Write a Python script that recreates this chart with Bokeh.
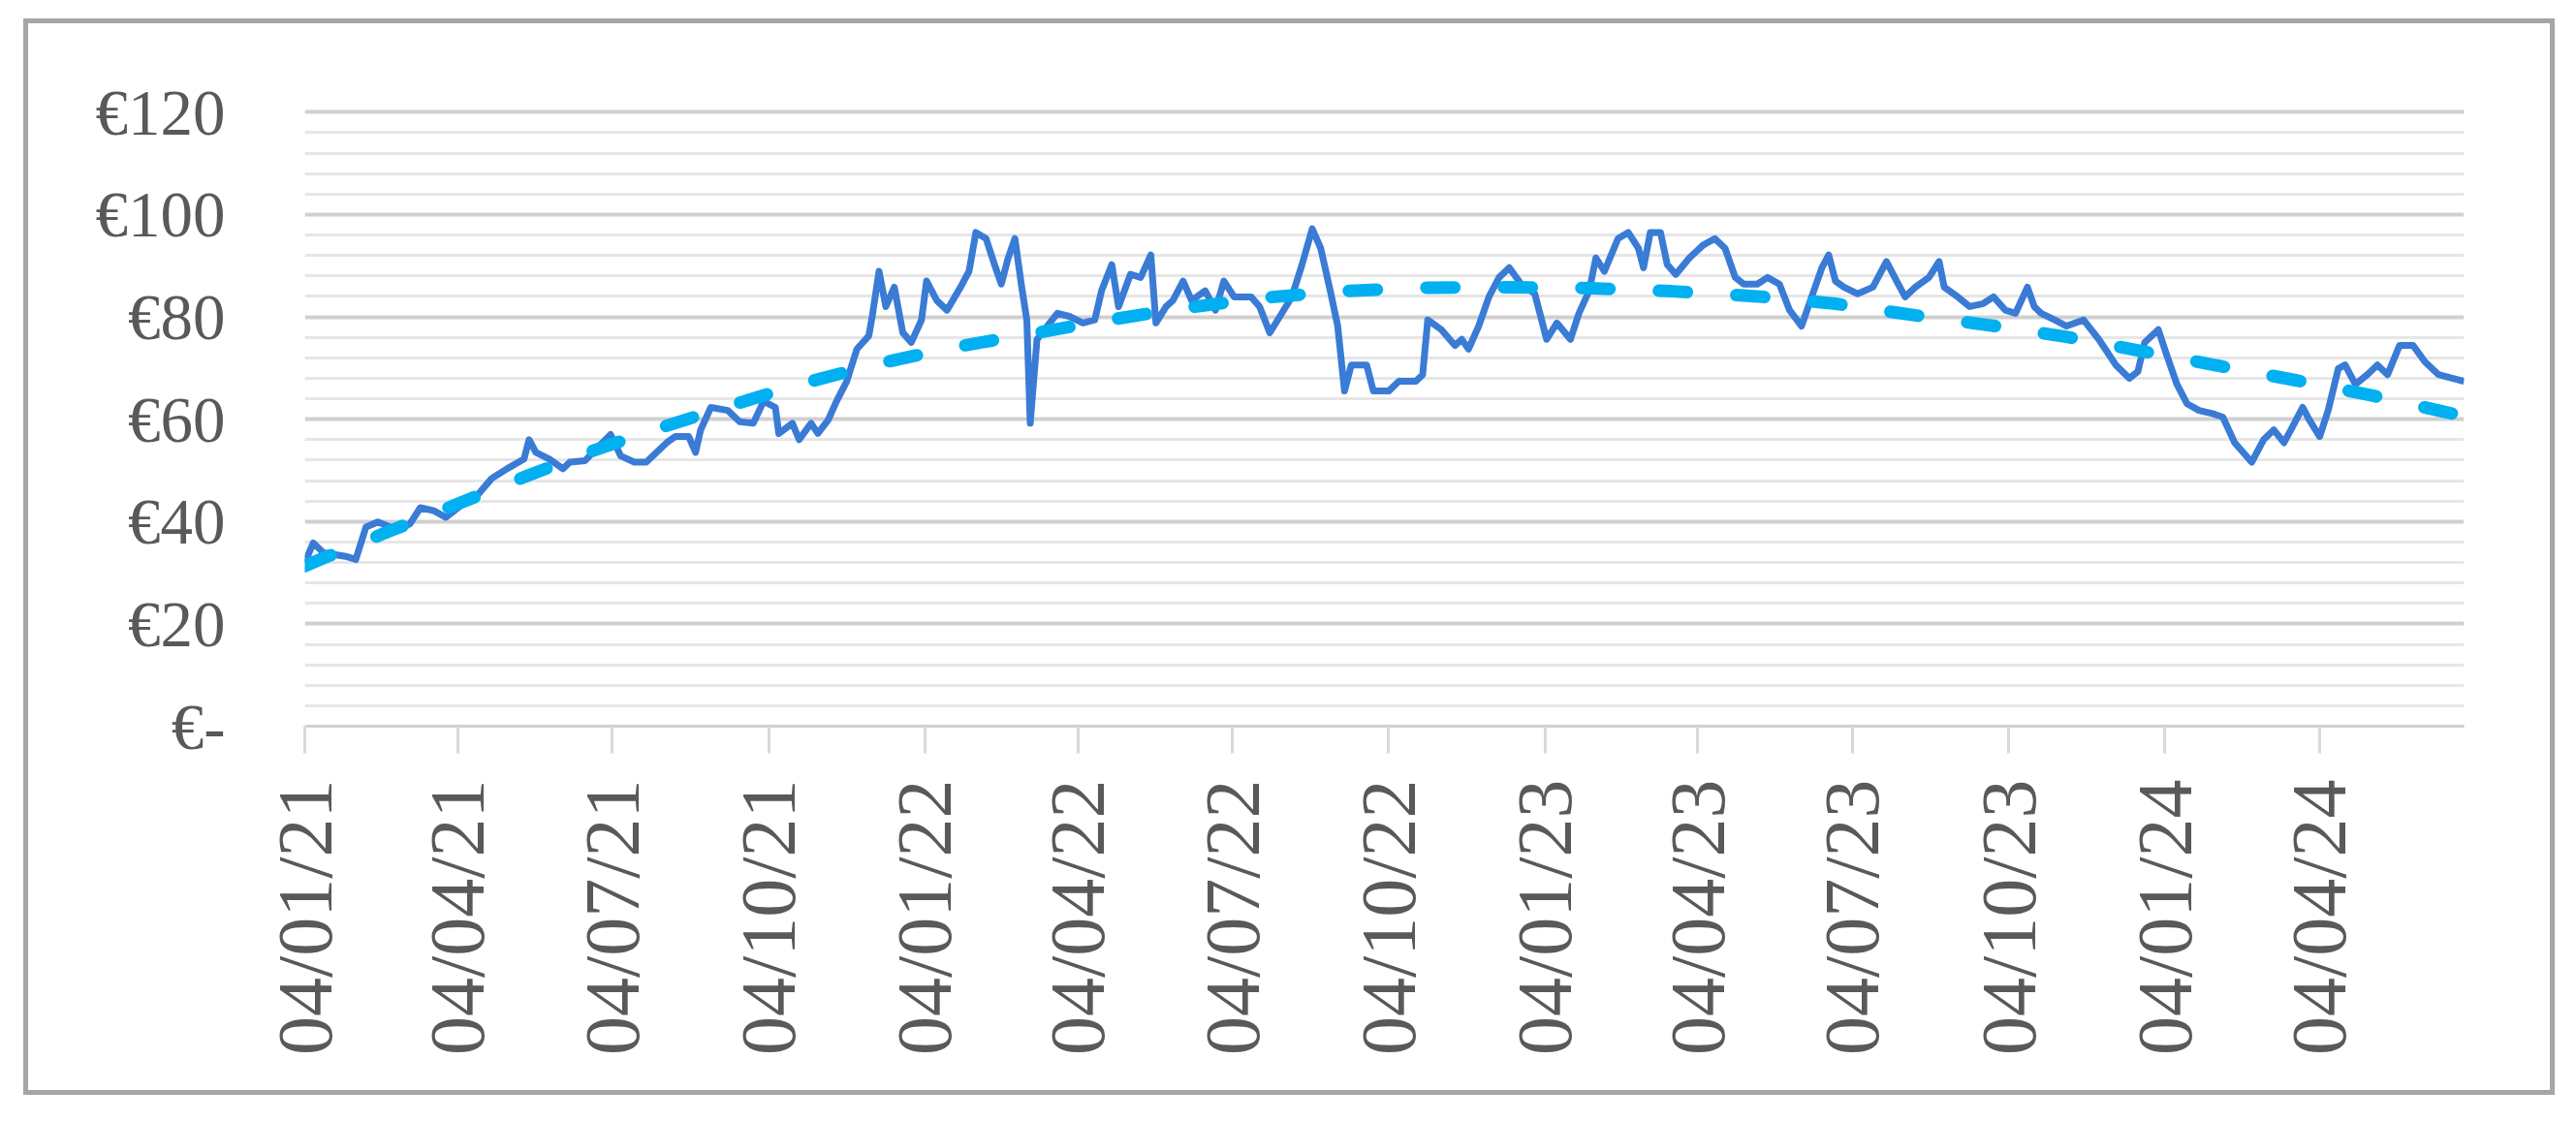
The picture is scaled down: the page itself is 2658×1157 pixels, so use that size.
import math
import pandas as pd
from bokeh.plotting import figure
from bokeh.models import Range1d, FixedTicker, DatetimeTickFormatter
from bokeh.embed import file_html
from bokeh.resources import INLINE

# ---------------- data ----------------
start_date = "2021-01-04"
end_date = "2024-06-28"

# price series: day offsets from start_date and closing price (EUR)
price_day_offsets = [
    0, 5, 11, 24, 30, 36, 43, 55, 62, 68, 76, 83, 93, 102, 110, 119, 129, 132, 136, 144,
    152, 156, 165, 173, 180, 186, 194, 201, 207, 213, 218, 226, 230, 233, 239, 249, 256, 264, 270, 277,
    279, 287, 291, 298, 302, 308, 313, 319, 325, 332, 334, 338, 342, 347, 352, 357, 363, 366, 372, 378,
    386, 391, 395, 401, 406, 410, 414, 418, 422, 425, 427, 431, 437, 443, 450, 458, 465, 469, 475, 479,
    486, 492, 498, 501, 507, 511, 517, 522, 530, 536, 541, 547, 557, 562, 568, 574, 581, 587, 593, 598,
    604, 608, 612, 616, 625, 629, 638, 644, 654, 658, 661, 669, 677, 681, 685, 691, 697, 703, 709, 716,
    724, 731, 737, 745, 750, 756, 760, 765, 773, 779, 785, 788, 792, 798, 802, 807, 815, 823, 830, 836,
    842, 847, 855, 861, 868, 874, 881, 887, 893, 897, 901, 906, 914, 923, 931, 937, 942, 948, 956, 962,
    965, 973, 980, 988, 994, 1001, 1007, 1014, 1018, 1022, 1030, 1037, 1047, 1056, 1066, 1074, 1079, 1083, 1091, 1096,
    1102, 1108, 1115, 1123, 1129, 1136, 1146, 1153, 1159, 1165, 1170, 1176, 1180, 1186, 1191, 1197, 1201, 1207, 1214, 1220,
    1226, 1233, 1241, 1248, 1256, 1264, 1271,
]
price_values = [
    32.0, 35.8, 33.9, 33.2, 32.6, 38.9, 39.9, 38.3, 39.6, 42.7, 42.1, 40.8, 43.4, 45.3, 48.4, 50.3, 52.2, 56.0, 53.5, 52.2,
    50.3, 51.6, 51.9, 54.7, 57.0, 52.8, 51.6, 51.6, 53.5, 55.4, 56.6, 56.6, 53.5, 57.9, 62.3, 61.7, 59.5, 59.2, 63.5, 62.3,
    57.2, 59.2, 56.0, 59.2, 57.2, 59.8, 63.5, 67.4, 73.7, 76.3, 80.1, 88.9, 82.0, 85.8, 76.9, 75.0, 79.4, 87.0, 83.2, 81.3,
    85.8, 88.9, 96.5, 95.3, 90.2, 86.4, 91.5, 95.3, 85.8, 79.4, 59.2, 75.6, 78.2, 80.7, 80.1, 78.8, 79.4, 85.1, 90.2, 82.0,
    88.3, 87.7, 92.1, 78.8, 82.0, 83.2, 87.0, 83.2, 85.1, 81.3, 87.0, 83.9, 83.9, 82.0, 76.9, 80.1, 83.9, 90.2, 97.2, 93.4,
    84.5, 78.2, 65.5, 70.6, 70.6, 65.5, 65.5, 67.4, 67.4, 68.7, 79.4, 77.5, 74.4, 75.6, 73.7, 78.2, 83.9, 87.7, 89.6, 86.4,
    84.5, 75.6, 78.8, 75.6, 80.7, 85.1, 91.5, 88.9, 95.3, 96.5, 93.4, 89.6, 96.5, 96.5, 90.2, 88.3, 91.5, 94.0, 95.3, 93.4,
    87.7, 86.4, 86.4, 87.7, 86.4, 81.3, 78.2, 83.9, 89.6, 92.1, 87.0, 85.8, 84.5, 85.8, 90.8, 87.0, 83.9, 85.8, 87.7, 90.8,
    85.8, 83.9, 82.0, 82.6, 83.9, 81.3, 80.7, 85.8, 82.0, 80.7, 79.4, 78.2, 79.4, 75.6, 70.6, 68.0, 69.3, 75.0, 77.5, 72.5,
    66.8, 63.0, 61.7, 61.1, 60.4, 55.4, 51.6, 56.0, 57.9, 55.4, 58.5, 62.3, 59.8, 56.6, 61.7, 69.9, 70.6, 66.8, 68.7, 70.6,
    68.7, 74.4, 74.4, 71.2, 68.7, 68.0, 67.4,
]

# trend line (dashed), read at the dash centres
trend_day_offsets = [0, 12, 49, 89, 130, 171, 212, 250, 291, 337, 381, 426, 470, 509, 560, 609, 658, 707,
                     757, 805, 855, 900, 950, 995, 1037, 1081, 1127, 1172, 1216, 1257, 1271]
trend_values = [31.3, 33.0, 38.0, 43.3, 48.8, 54.0, 58.6, 62.6, 66.8, 70.8, 74.0, 76.6, 79.2, 81.3, 83.6, 85.0, 85.7, 85.8,
                85.6, 85.0, 84.0, 82.6, 80.2, 78.2, 76.1, 73.3, 70.4, 67.6, 64.7, 61.6, 60.6]

x_tick_dates = ["2021-01-04", "2021-04-04", "2021-07-04", "2021-10-04", "2022-01-04", "2022-04-04",
                "2022-07-04", "2022-10-04", "2023-01-04", "2023-04-04", "2023-07-04", "2023-10-04",
                "2024-01-04", "2024-04-04"]
y_ticks = [0, 20, 40, 60, 80, 100, 120]
y_tick_labels = ["€-", "€20", "€40", "€60", "€80", "€100", "€120"]
y_minor_ticks = [4, 8, 12, 16, 24, 28, 32, 36, 44, 48, 52, 56, 64, 68, 72, 76, 84, 88, 92, 96, 104, 108, 112, 116]

# ---------------- build ----------------
t0 = pd.Timestamp(start_date)
price_dates = t0 + pd.to_timedelta(price_day_offsets, unit="D")
trend_dates = t0 + pd.to_timedelta(trend_day_offsets, unit="D")
x_ticks_ms = [int(pd.Timestamp(d).value // 10**6) for d in x_tick_dates]

FONT = "Liberation Serif"
TXT = "#595959"
BORDER = "#a6a6a6"

W, H = 2642, 1141
Y_TOP = 121  # a little head-room so the 120 gridline is drawn inside the frame
p = figure(width=W, height=H, x_axis_type="datetime",
           x_range=Range1d(pd.Timestamp(start_date), pd.Timestamp(end_date)),
           y_range=Range1d(0, Y_TOP),
           output_backend="svg", toolbar_location=None,
           min_border_left=314, min_border_right=W - 2542, min_border_top=110, min_border_bottom=H - 749)
p.outline_line_color = None
p.background_fill_color = None
p.border_fill_color = None
# outer chart border (drawn behind the transparent canvas)
line = f"linear-gradient({BORDER},{BORDER})"
p.styles = {
    "background-color": "white",
    "background-image": ", ".join([line] * 4),
    "background-size": "2612px 5px, 2612px 5px, 5px 1111px, 5px 1111px",
    "background-position": "24px 19px, 24px 1125px, 24px 19px, 2631px 19px",
    "background-repeat": "no-repeat",
}

# y axis / grid
yt = FixedTicker(ticks=y_ticks, minor_ticks=y_minor_ticks)
p.yaxis.ticker = yt
p.ygrid.ticker = yt
p.yaxis.major_label_overrides = dict(zip(y_ticks, y_tick_labels))
p.yaxis.axis_line_color = None
p.yaxis.major_tick_line_color = None
p.yaxis.minor_tick_line_color = None
p.yaxis.major_tick_out = 0
p.yaxis.major_tick_in = 0
p.yaxis.major_label_standoff = 78
p.yaxis.major_label_text_font = FONT
p.yaxis.major_label_text_font_size = "67px"
p.yaxis.major_label_text_color = TXT
p.ygrid.grid_line_color = "#d0d0d0"
p.ygrid.grid_line_width = 4
p.ygrid.minor_grid_line_color = "#e6e6e6"
p.ygrid.minor_grid_line_width = 3

# x axis
p.xgrid.visible = False
p.xaxis.ticker = FixedTicker(ticks=x_ticks_ms)
fmt = "%d/%m/%y"
p.xaxis.formatter = DatetimeTickFormatter(milliseconds=fmt, seconds=fmt, minsec=fmt, minutes=fmt,
                                          hourmin=fmt, hours=fmt, days=fmt, months=fmt, years=fmt)
p.xaxis.major_label_orientation = math.pi / 2
p.xaxis.axis_line_color = "#d0d0d0"
p.xaxis.axis_line_width = 3
p.xaxis.major_tick_line_color = "#d9d9d9"
p.xaxis.major_tick_line_width = 3
p.xaxis.major_tick_out = 28
p.xaxis.major_tick_in = 0
p.xaxis.minor_tick_line_color = None
p.xaxis.major_label_standoff = 27
p.xaxis.major_label_text_font = FONT
p.xaxis.major_label_text_font_size = "80px"
p.xaxis.major_label_text_color = TXT

# series
p.line(price_dates, price_values, line_color="#3A7BD5", line_width=7, line_join="round")
p.line(trend_dates, trend_values, line_color="#00B0F0", line_width=13, line_dash="29 51", line_cap="round",
       line_join="round")

open("out.html", "w", encoding="utf-8").write(file_html(p, INLINE, "chart"))
